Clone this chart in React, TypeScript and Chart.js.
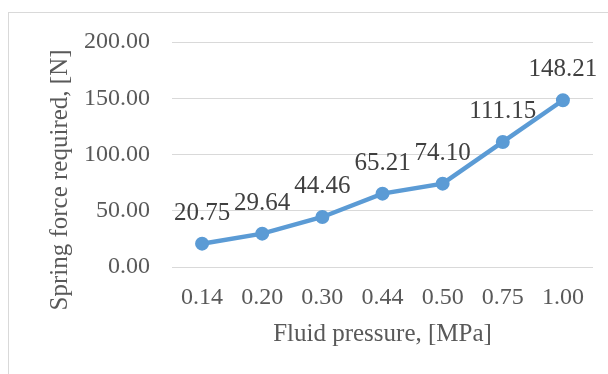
import React, { useEffect, useRef } from "react";
import { Chart, registerables } from "chart.js";

Chart.register(...registerables);

const pressures = ["0.14", "0.20", "0.30", "0.44", "0.50", "0.75", "1.00"];
const springForce = [20.75, 29.64, 44.46, 65.21, 74.1, 111.15, 148.21];
const yTicks = [0, 50, 100, 150, 200];

const xTitle = "Fluid pressure, [MPa]";
const yTitle = "Spring force required, [N]";

const FONT = "'Liberation Serif', 'Times New Roman', serif";
const LINE_BLUE = "#5B9BD5";
const GRID = "#D9D9D9";
const TICK_TEXT = "#595959";
const LABEL_TEXT = "#404040";

// White background with the thin frame around the chart area
const framePlugin = {
  id: "frame",
  beforeDraw(chart: any) {
    const { ctx, width, height } = chart;
    ctx.save();
    ctx.fillStyle = "#ffffff";
    ctx.fillRect(0, 0, width, height);
    ctx.strokeStyle = GRID;
    ctx.lineWidth = 1;
    ctx.strokeRect(8.5, 12.5, width + 20, height + 20);
    ctx.restore();
  },
};

// Rotated title beside the value axis
const yTitlePlugin = {
  id: "yTitle",
  afterDraw(chart: any) {
    const { ctx } = chart;
    ctx.save();
    ctx.translate(60, 180);
    ctx.rotate(-Math.PI / 2);
    ctx.font = `25px ${FONT}`;
    ctx.fillStyle = TICK_TEXT;
    ctx.textAlign = "center";
    ctx.textBaseline = "middle";
    ctx.fillText(yTitle, 0, 0);
    ctx.restore();
  },
};

// Value labels above each point
const valueLabelPlugin = {
  id: "valueLabels",
  afterDatasetsDraw(chart: any) {
    const { ctx } = chart;
    const meta = chart.getDatasetMeta(0);
    const values = chart.data.datasets[0].data as number[];
    ctx.save();
    ctx.font = `25px ${FONT}`;
    ctx.fillStyle = LABEL_TEXT;
    ctx.textAlign = "center";
    ctx.textBaseline = "alphabetic";
    meta.data.forEach((pt: any, i: number) => {
      ctx.fillText(values[i].toFixed(2), pt.x, pt.y - 24);
    });
    ctx.restore();
  },
};

export default function App() {
  const canvasRef = useRef<HTMLCanvasElement | null>(null);

  useEffect(() => {
    document.body.style.margin = "0";
    const canvas = canvasRef.current;
    if (!canvas) return;
    const chart = new Chart(canvas, {
      type: "line",
      data: {
        labels: pressures,
        datasets: [
          {
            data: springForce,
            borderColor: LINE_BLUE,
            backgroundColor: LINE_BLUE,
            borderWidth: 4.5,
            pointRadius: 6,
            pointBorderWidth: 2,
            pointBackgroundColor: LINE_BLUE,
            pointBorderColor: LINE_BLUE,
            tension: 0,
          },
        ],
      },
      options: {
        responsive: false,
        animation: false,
        devicePixelRatio: 1,
        layout: { padding: { top: 42, right: 15, left: 0, bottom: 0 } },
        plugins: {
          legend: { display: false },
          tooltip: { enabled: false },
        },
        scales: {
          x: {
            type: "category",
            offset: true,
            grid: { display: false, drawTicks: false, tickLength: 0 },
            border: { display: false },
            ticks: {
              color: TICK_TEXT,
              font: { family: FONT, size: 24 },
              padding: 16,
              maxRotation: 0,
              autoSkip: false,
            },
            title: {
              display: true,
              text: xTitle,
              color: TICK_TEXT,
              font: { family: FONT, size: 25 },
              padding: { top: 0, bottom: 25 },
            },
            afterFit(scale: any) {
              scale.height = 107;
            },
          },
          y: {
            min: 0,
            max: 200,
            afterBuildTicks(scale: any) {
              scale.ticks = yTicks.map((v) => ({ value: v }));
            },
            grid: { color: GRID, lineWidth: 1, drawTicks: false, tickLength: 0 },
            border: { display: false },
            ticks: {
              color: TICK_TEXT,
              font: { family: FONT, size: 24 },
              padding: 22,
              callback: (v: any) => Number(v).toFixed(2),
            },
            afterFit(scale: any) {
              scale.width = 172;
            },
          },
        },
      },
      plugins: [framePlugin, yTitlePlugin, valueLabelPlugin],
    });
    return () => chart.destroy();
  }, []);

  return (
    <div style={{ width: 608, height: 374 }}>
      <canvas ref={canvasRef} width={608} height={374} style={{ display: "block" }} />
    </div>
  );
}
